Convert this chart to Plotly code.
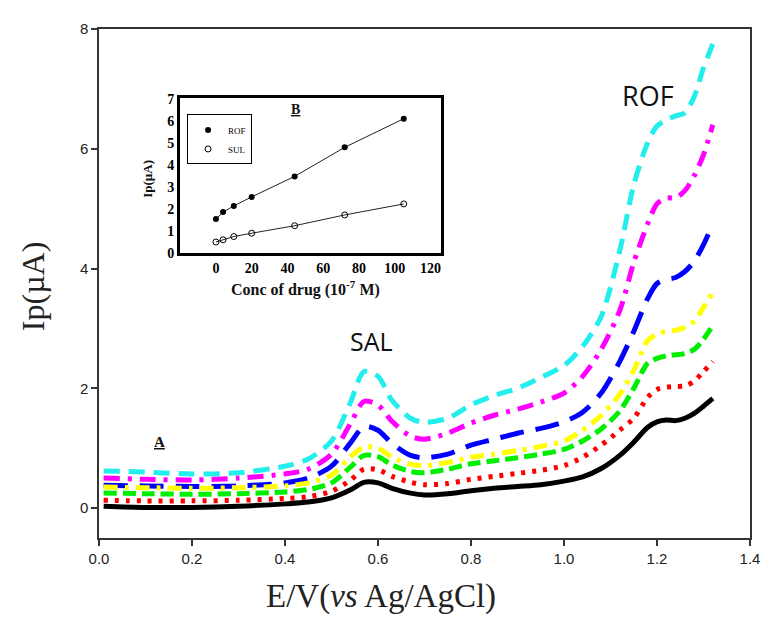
import plotly.graph_objects as go

# ---------------- data (main voltammograms) ----------------
E = [0.01, 0.1, 0.2, 0.3, 0.4, 0.45, 0.5, 0.54, 0.57, 0.6, 0.63, 0.67, 0.7, 0.75,
     0.8, 0.85, 0.9, 0.95, 1.0, 1.04, 1.08, 1.12, 1.15, 1.18, 1.2, 1.22, 1.24,
     1.26, 1.28, 1.3, 1.32]

ip_black = [0.03, 0.01, 0.01, 0.03, 0.07, 0.10, 0.17, 0.30, 0.43, 0.42, 0.33, 0.25, 0.22, 0.24,
            0.29, 0.33, 0.36, 0.39, 0.45, 0.52, 0.66, 0.88, 1.10, 1.35, 1.44, 1.47, 1.46,
            1.50, 1.58, 1.70, 1.83]
ip_red = [0.13, 0.12, 0.12, 0.13, 0.16, 0.19, 0.28, 0.46, 0.65, 0.64, 0.53, 0.43, 0.39, 0.41,
          0.48, 0.53, 0.58, 0.63, 0.71, 0.85, 1.05, 1.30, 1.50, 1.85, 1.98, 2.02, 2.03,
          2.04, 2.12, 2.28, 2.45]
ip_green = [0.25, 0.24, 0.23, 0.24, 0.27, 0.31, 0.42, 0.68, 0.88, 0.86, 0.72, 0.61, 0.59, 0.65,
            0.74, 0.79, 0.84, 0.90, 0.98, 1.12, 1.32, 1.62, 2.00, 2.42, 2.50, 2.54, 2.56,
            2.58, 2.65, 2.82, 3.05]
ip_yellow = [0.35, 0.34, 0.33, 0.34, 0.37, 0.42, 0.55, 0.85, 1.02, 1.00, 0.85, 0.73, 0.71, 0.76,
             0.85, 0.90, 0.96, 1.03, 1.12, 1.30, 1.55, 1.90, 2.30, 2.80, 2.90, 2.95, 2.97,
             3.02, 3.12, 3.35, 3.60]
ip_blue = [0.38, 0.37, 0.36, 0.37, 0.42, 0.50, 0.70, 1.08, 1.36, 1.30, 1.08, 0.88, 0.84, 0.90,
           1.05, 1.15, 1.25, 1.33, 1.44, 1.60, 1.92, 2.45, 2.95, 3.50, 3.75, 3.82, 3.85,
           3.95, 4.12, 4.40, 4.75]
ip_magenta = [0.50, 0.48, 0.47, 0.50, 0.57, 0.65, 0.90, 1.40, 1.78, 1.72, 1.45, 1.20, 1.15, 1.25,
              1.42, 1.55, 1.65, 1.77, 1.92, 2.20, 2.65, 3.30, 4.10, 4.75, 5.08, 5.18, 5.18,
              5.30, 5.55, 5.90, 6.40]
ip_cyan = [0.62, 0.60, 0.57, 0.59, 0.70, 0.82, 1.12, 1.75, 2.28, 2.20, 1.80, 1.50, 1.43, 1.50,
           1.72, 1.88, 2.00, 2.18, 2.38, 2.70, 3.20, 4.30, 5.40, 6.10, 6.38, 6.48, 6.55,
           6.60, 6.87, 7.35, 7.75]

# ---------------- data (inset calibration) ----------------
conc = [0, 4, 10, 20, 44, 72, 105]
ip_rof = [1.54, 1.86, 2.14, 2.55, 3.48, 4.80, 6.10]
ip_sul = [0.50, 0.60, 0.75, 0.90, 1.24, 1.73, 2.23]

x_ticks = [0.0, 0.2, 0.4, 0.6, 0.8, 1.0, 1.2, 1.4]
y_ticks = [0, 2, 4, 6, 8]
inset_x_ticks = [0, 20, 40, 60, 80, 100, 120]
inset_y_ticks = [0, 1, 2, 3, 4, 5, 6, 7]

curves = [
    (ip_cyan, "#22EEEE", "16px,9px"),
    (ip_magenta, "#FF00FF", "16px,8px,4px,8px"),
    (ip_blue, "#0000FF", "24px,12px"),
    (ip_yellow, "#FFFF00", "14px,7px,4px,7px"),
    (ip_green, "#00EE00", "13px,6px"),
    (ip_red, "#FF0000", "4px,7px"),
    (ip_black, "#000000", "solid"),
]

fig = go.Figure()
for vals, col, dash in curves:
    fig.add_trace(go.Scatter(
        x=E, y=vals, mode="lines", showlegend=False,
        line=dict(color=col, width=5, dash=dash, shape="spline", smoothing=0.8),
        xaxis="x", yaxis="y"))

# inset lines
fig.add_trace(go.Scatter(x=conc, y=ip_rof, mode="lines", showlegend=False,
                         line=dict(color="#222", width=1), xaxis="x2", yaxis="y2"))
fig.add_trace(go.Scatter(x=conc, y=ip_sul, mode="lines", showlegend=False,
                         line=dict(color="#222", width=1), xaxis="x2", yaxis="y2"))
fig.add_trace(go.Scatter(x=conc, y=ip_rof, mode="markers", name="ROF",
                         marker=dict(symbol="circle", size=6, color="black"),
                         xaxis="x2", yaxis="y2"))
fig.add_trace(go.Scatter(x=conc, y=ip_sul, mode="markers", name="SUL",
                         marker=dict(symbol="circle-open", size=6, color="black",
                                     line=dict(width=1)),
                         xaxis="x2", yaxis="y2"))

OFF = 8  # page body margin
W, H = 772 - OFF, 617 - OFF
L, R, T, B = 99 - OFF, 15, 20 - OFF, 79
pw, ph = W - L - R, H - T - B


def px(xp):
    return (xp - OFF - L) / pw


def py(yp):
    return (H - B - (yp - OFF)) / ph


serif = "Liberation Serif, Times New Roman, serif"
sans = "Liberation Sans, Arial, sans-serif"

fig.update_layout(
    width=W, height=H,
    margin=dict(l=L, r=R, t=T, b=B),
    paper_bgcolor="white", plot_bgcolor="white",
    xaxis=dict(range=[0, 1.4], tickvals=x_ticks, ticktext=[f"{v:.1f}" for v in x_ticks],
               ticks="outside", ticklen=6, tickwidth=1.5, tickcolor="#333",
               showline=True, linecolor="#333", linewidth=1.5, mirror=True,
               showgrid=False, zeroline=False,
               tickfont=dict(family=sans, size=15, color="#222")),
    yaxis=dict(range=[-0.5, 8], tickvals=y_ticks, ticktext=[str(v) for v in y_ticks],
               ticks="outside", ticklen=6, tickwidth=1.5, tickcolor="#333",
               showline=True, linecolor="#333", linewidth=1.5, mirror=True,
               showgrid=False, zeroline=False,
               tickfont=dict(family=sans, size=15, color="#222")),
    xaxis2=dict(domain=[px(181), px(445)], anchor="y2", range=[-20, 126],
                tickvals=inset_x_ticks, ticks="", showline=True, linecolor="black",
                linewidth=3, mirror=True, showgrid=False, zeroline=False,
                tickfont=dict(family=serif, size=14, color="black", weight="bold")),
    yaxis2=dict(domain=[py(248), py(90)], anchor="x2", range=[0, 7.05],
                tickvals=inset_y_ticks, ticks="", showline=True, linecolor="black",
                linewidth=3, mirror=True, showgrid=False, zeroline=False,
                tickfont=dict(family=serif, size=14, color="black", weight="bold")),
    legend=dict(x=px(188), y=py(107), xanchor="left", yanchor="top",
                bordercolor="black", borderwidth=1, bgcolor="white",
                font=dict(family=serif, size=9, color="black"),
                itemwidth=30, tracegroupgap=0),
)

ann = [
    dict(text="E/V(<i>vs</i> Ag/AgCl)", x=px(384), y=py(598), font=dict(family=serif, size=33, color="#222")),
    dict(text="Ip(µA)", x=px(33), y=py(282), textangle=-90, font=dict(family=serif, size=32, color="#222")),
    dict(text="SAL", x=px(374), y=py(338), font=dict(family="Open Sans", size=25, color="#111")),
    dict(text="ROF", x=px(654), y=py(88), font=dict(family="Open Sans", size=27, color="#111")),
    dict(text="<b><u>A</u></b>", x=px(160), y=py(440), font=dict(family=serif, size=15, color="#111")),
    dict(text="<b><u>B</u></b>", x=px(298), y=py(102), font=dict(family=serif, size=14, color="#111")),
    dict(text="<b>Ip(µA)</b>", x=px(148), y=py(172), textangle=-90, font=dict(family=serif, size=13, color="#111")),
    dict(text="<b>Conc of drug (10<sup>-7</sup> M)</b>", x=px(308), y=py(284), font=dict(family=serif, size=16, color="#111")),
]
for a in ann:
    a.update(xref="paper", yref="paper", showarrow=False, xanchor="center", yanchor="middle")
    fig.add_annotation(**a)

fig.write_html("out.html")
